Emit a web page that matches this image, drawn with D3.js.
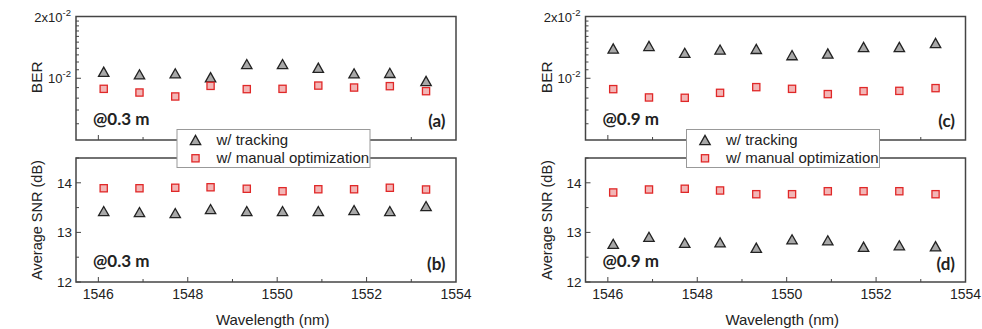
<!DOCTYPE html>
<html>
<head>
<meta charset="utf-8">
<script src="https://cdn.jsdelivr.net/npm/d3@7"></script>
<style>
  body { margin: 0; background: #fff; }
  text { font-family: "Liberation Sans", Arial, sans-serif; fill: #222; }
  .tag { font-family: Lato, "Open Sans", sans-serif; font-weight: bold; }
</style>
</head>
<body>
<svg id="chart" width="982" height="329"></svg>
<script>
// wavelengths (nm)
var wavelengths = [1546.12, 1546.92, 1547.72, 1548.51, 1549.32, 1550.12, 1550.92, 1551.72, 1552.52, 1553.33];

// BER @0.3 m
var berTrack03 = [1.076e-2, 1.045e-2, 1.057e-2, 1.011e-2, 1.172e-2, 1.172e-2, 1.125e-2, 1.057e-2, 1.062e-2, 0.970e-2];
var berManual03 = [8.88e-3, 8.52e-3, 8.15e-3, 9.18e-3, 8.85e-3, 8.88e-3, 9.21e-3, 9.01e-3, 9.15e-3, 8.65e-3];
// SNR @0.3 m
var snrTrack03 = [13.43, 13.41, 13.39, 13.47, 13.43, 13.43, 13.43, 13.45, 13.43, 13.53];
var snrManual03 = [13.89, 13.89, 13.90, 13.91, 13.88, 13.83, 13.87, 13.87, 13.90, 13.865];

// BER @0.9 m
var berTrack09 = [1.396e-2, 1.437e-2, 1.33e-2, 1.38e-2, 1.39e-2, 1.296e-2, 1.32e-2, 1.42e-2, 1.42e-2, 1.486e-2];
var berManual09 = [8.85e-3, 8.06e-3, 8.03e-3, 8.49e-3, 9.05e-3, 8.88e-3, 8.37e-3, 8.65e-3, 8.68e-3, 8.95e-3];
// SNR @0.9 m
var snrTrack09 = [12.77, 12.91, 12.79, 12.80, 12.69, 12.86, 12.84, 12.71, 12.74, 12.72];
var snrManual09 = [13.805, 13.865, 13.88, 13.845, 13.77, 13.77, 13.83, 13.83, 13.83, 13.77];

var xTicks = [1546, 1548, 1550, 1552, 1554];
var snrTicks = [12, 13, 14];
var seriesNames = ["w/ tracking", "w/ manual optimization"];

var svg = d3.select("#chart");
var frameColor = "#444";
var triFill = "#a8a8a8", triStroke = "#222";
var sqFill = "#f2b6b6", sqStroke = "#e02828";

var triPath = function (x, y) {
    var w = 5.2, h = 4.6;
    return "M" + x + "," + (y - h) + "L" + (x + w) + "," + (y + h) + "L" + (x - w) + "," + (y + h) + "Z";
};

const drawMarkers = (g, xs, ys, values, kind) => {
    if (kind === "tri") {
        g.selectAll(null).data(values).enter().append("path")
            .attr("d", function (d, i) { return triPath(xs(wavelengths[i]), ys(d)); })
            .attr("fill", triFill).attr("stroke", triStroke).attr("stroke-width", 1.3);
    } else {
        g.selectAll(null).data(values).enter().append("rect")
            .attr("x", function (d, i) { return xs(wavelengths[i]) - 3.6; })
            .attr("y", function (d) { return ys(d) - 3.6; })
            .attr("width", 7.2).attr("height", 7.2)
            .attr("fill", sqFill).attr("stroke", sqStroke).attr("stroke-width", 1.3);
    }
};

const drawColumn = (left, dist, berT, berM, snrT, snrM, tags) => {
    var width = 380;
    var top1 = 16.5, bot1 = 140, top2 = 158, bot2 = 282;

    var x = d3.scaleLinear().domain([1545.5, 1554]).range([left, left + width]);
    var yBer = d3.scaleLog().domain([5e-3, 2e-2]).range([bot1, top1]);
    var ySnr = d3.scaleLinear().domain([12, 14.5]).range([bot2, top2]);

    var g = svg.append("g");

    // x ticks (inward) on both panels
    var xMinor = d3.range(1546, 1554, 1);
    [bot1, bot2].forEach(function (b) {
        g.selectAll(null).data(xMinor).enter().append("line")
            .attr("x1", function (d) { return x(d); }).attr("x2", function (d) { return x(d); })
            .attr("y1", b).attr("y2", function (d) { return b - (d % 2 === 0 ? 5 : 3); })
            .attr("stroke", frameColor).attr("stroke-width", 1);
    });

    // BER y ticks
    var berMinor = [6e-3, 7e-3, 8e-3, 9e-3, 1.1e-2, 1.2e-2, 1.3e-2, 1.4e-2, 1.5e-2, 1.6e-2, 1.7e-2, 1.8e-2, 1.9e-2];
    g.selectAll(null).data(berMinor).enter().append("line")
        .attr("x1", left).attr("x2", left + 3)
        .attr("y1", function (d) { return yBer(d); }).attr("y2", function (d) { return yBer(d); })
        .attr("stroke", frameColor);
    g.append("line").attr("x1", left).attr("x2", left + 5)
        .attr("y1", yBer(1e-2)).attr("y2", yBer(1e-2)).attr("stroke", frameColor);

    var berLabels = [{v: 2e-2, m: "2x10"}, {v: 1e-2, m: "10"}];
    berLabels.forEach(function (l) {
        var t = g.append("text").attr("x", left - 5).attr("y", yBer(l.v) + 5)
            .attr("text-anchor", "end").style("font-size", "13px");
        t.append("tspan").text(l.m);
        t.append("tspan").attr("dy", -6).style("font-size", "9.5px").text("-2");
    });

    // SNR y ticks
    var snrMinor = [12.5, 13.5, 14.5];
    g.selectAll(null).data(snrMinor).enter().append("line")
        .attr("x1", left).attr("x2", left + 3)
        .attr("y1", function (d) { return ySnr(d); }).attr("y2", function (d) { return ySnr(d); })
        .attr("stroke", frameColor);
    g.selectAll(null).data(snrTicks).enter().append("line")
        .attr("x1", left).attr("x2", left + 5)
        .attr("y1", function (d) { return ySnr(d); }).attr("y2", function (d) { return ySnr(d); })
        .attr("stroke", frameColor);
    g.selectAll(null).data(snrTicks).enter().append("text")
        .attr("x", left - 4).attr("y", function (d) { return ySnr(d) + 5; })
        .attr("text-anchor", "end").style("font-size", "13.5px")
        .text(function (d) { return d; });

    // x tick labels
    g.selectAll(null).data(xTicks).enter().append("text")
        .attr("x", function (d) { return x(d); }).attr("y", 299)
        .attr("text-anchor", "middle").style("font-size", "14px")
        .text(function (d) { return d; });

    // frames
    g.append("rect").attr("x", left).attr("y", top1).attr("width", width).attr("height", bot1 - top1)
        .attr("fill", "none").attr("stroke", frameColor).attr("stroke-width", 1.5);
    g.append("rect").attr("x", left).attr("y", top2).attr("width", width).attr("height", bot2 - top2)
        .attr("fill", "none").attr("stroke", frameColor).attr("stroke-width", 1.5);

    // axis titles
    g.append("text").attr("transform", "translate(" + (left - 34) + "," + ((top1 + bot1) / 2 - 1) + ") rotate(-90)")
        .attr("text-anchor", "middle").style("font-size", "15.5px").text("BER");
    g.append("text").attr("transform", "translate(" + (left - 34) + "," + ((top2 + bot2) / 2 + 0) + ") rotate(-90)")
        .attr("text-anchor", "middle").style("font-size", "14.5px").text("Average SNR (dB)");
    g.append("text").attr("x", x(1549.9)).attr("y", 325)
        .attr("text-anchor", "middle").style("font-size", "15px").text("Wavelength (nm)");

    // data
    drawMarkers(g, x, yBer, berT, "tri");
    drawMarkers(g, x, yBer, berM, "sq");
    drawMarkers(g, x, ySnr, snrT, "tri");
    drawMarkers(g, x, ySnr, snrM, "sq");

    // panel tags
    g.append("text").attr("class", "tag").attr("x", left + 17).attr("y", 125)
        .style("font-size", "17px").text(dist);
    g.append("text").attr("class", "tag").attr("x", left + 17).attr("y", 266.5)
        .style("font-size", "17px").text(dist);
    g.append("text").attr("class", "tag").attr("x", left + width - 10.5).attr("y", 127)
        .attr("text-anchor", "end").style("font-size", "17px").text(tags[0]);
    g.append("text").attr("class", "tag").attr("x", left + width - 10.5).attr("y", 269.5)
        .attr("text-anchor", "end").style("font-size", "17px").text(tags[1]);

    // legend
    var lx = left + 101, ly = 129.5;
    var lg = g.append("g");
    lg.append("rect").attr("x", lx).attr("y", ly).attr("width", 193).attr("height", 38)
        .attr("fill", "#fff").attr("stroke", "#999").attr("stroke-width", 1);
    lg.append("path").attr("d", triPath(lx + 18.5, ly + 10.5))
        .attr("fill", triFill).attr("stroke", triStroke).attr("stroke-width", 1.3);
    lg.append("rect").attr("x", lx + 18.5 - 3.6).attr("y", ly + 28.8 - 3.6).attr("width", 7.2).attr("height", 7.2)
        .attr("fill", sqFill).attr("stroke", sqStroke).attr("stroke-width", 1.3);
    lg.selectAll(null).data(seriesNames).enter().append("text")
        .attr("x", lx + 39.5).attr("y", function (d, i) { return ly + 15.5 + i * 18.3; })
        .style("font-size", "15px").text(function (d) { return d; });
};

drawColumn(76, "@0.3 m", berTrack03, berManual03, snrTrack03, snrManual03, ["(a)", "(b)"]);
drawColumn(585.5, "@0.9 m", berTrack09, berManual09, snrTrack09, snrManual09, ["(c)", "(d)"]);
</script>
</body>
</html>
